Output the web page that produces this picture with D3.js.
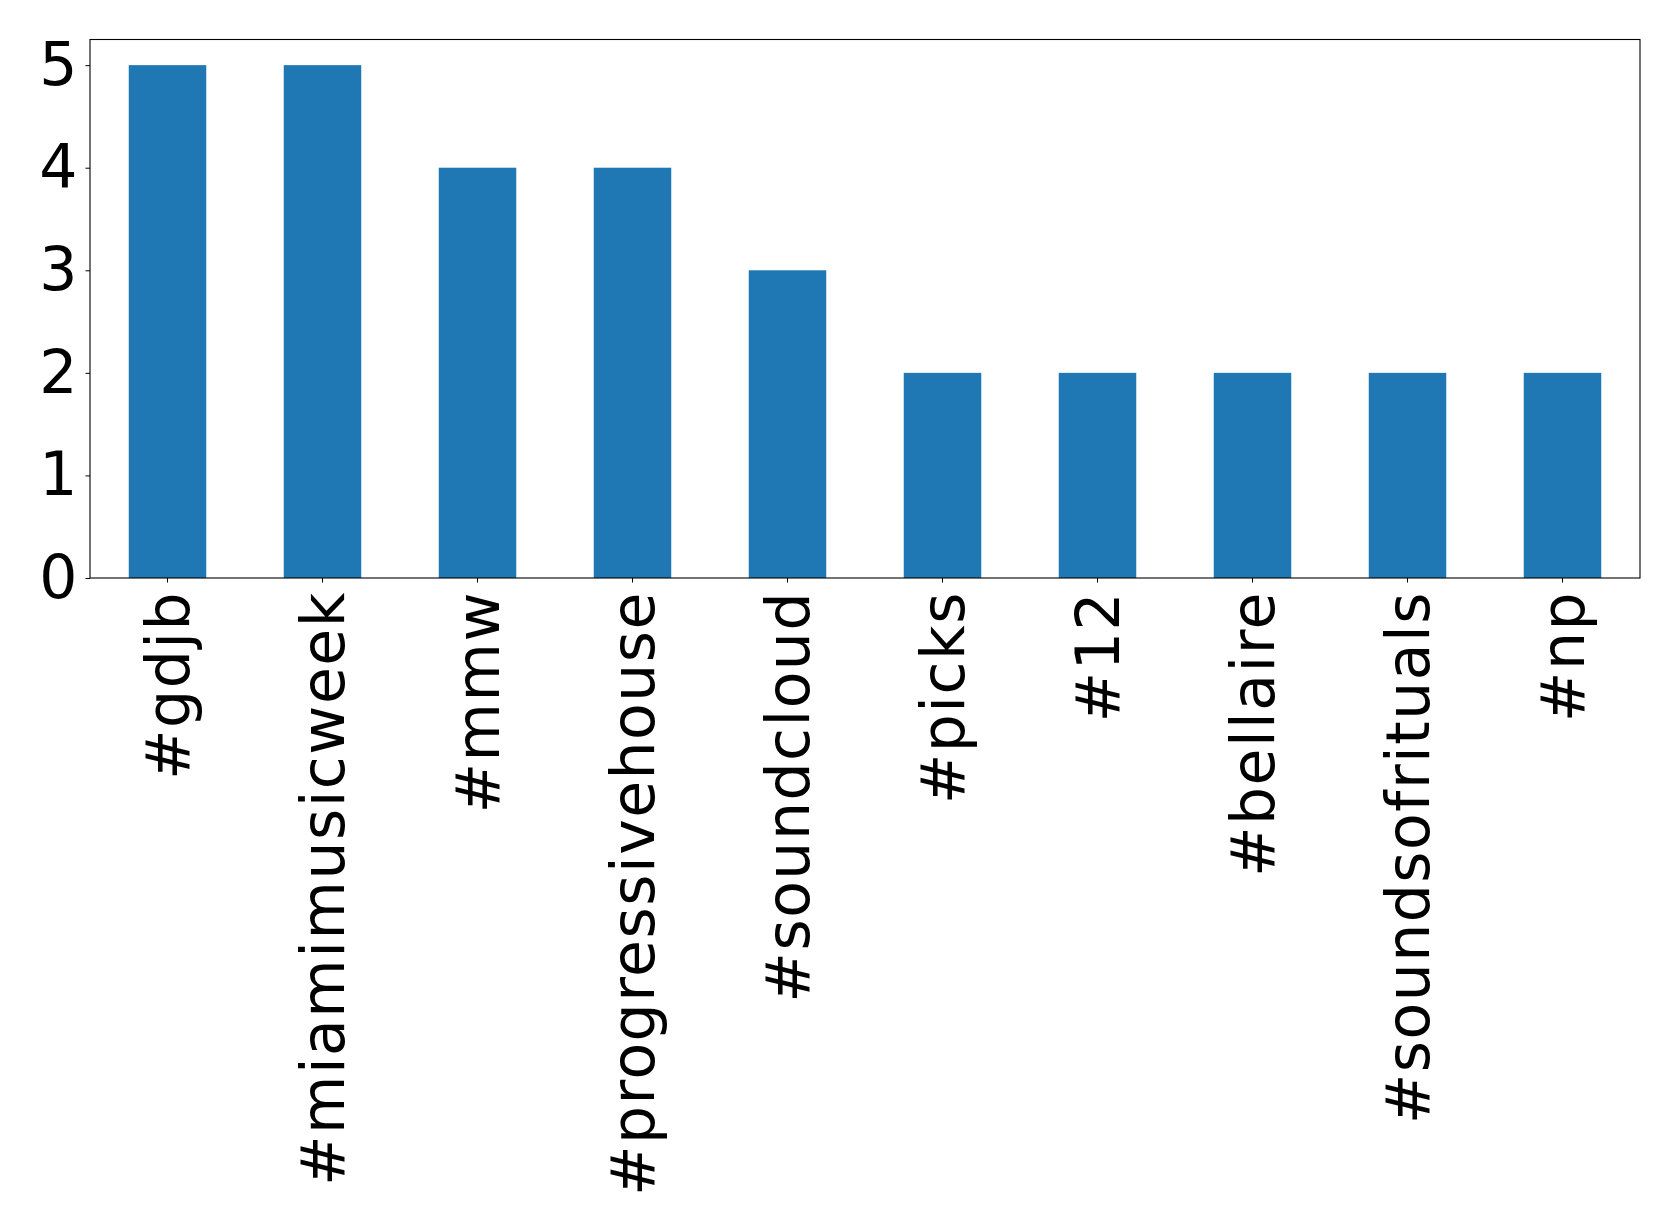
<!DOCTYPE html>
<html>
<head>
<meta charset="utf-8">
<script src="https://cdn.jsdelivr.net/npm/d3@7"></script>
<style>
  html, body { margin: 0; padding: 0; background: #fff; }
  svg { display: block; }
  text { font-family: "DejaVu Sans", sans-serif; fill: #000; }
</style>
</head>
<body>
<svg id="chart" width="1679" height="1231"></svg>
<script>
const categories = ["#gdjb", "#miamimusicweek", "#mmw", "#progressivehouse", "#soundcloud",
                    "#picks", "#12", "#bellaire", "#soundsofrituals", "#np"];
const counts = [5, 5, 4, 4, 3, 2, 2, 2, 2, 2];
const yTicks = [0, 1, 2, 3, 4, 5];

const W = 1679, H = 1231;
const m = { left: 90, right: 1640, top: 39.5, bottom: 578 };
const fontSize = 60;

const svg = d3.select("#chart");

const x = d3.scaleBand().domain(categories).range([m.left, m.right]).paddingInner(0.5).paddingOuter(0.25);
const y = d3.scaleLinear().domain([0, 5.25]).range([m.bottom, m.top]);

svg.append("g").selectAll("rect").data(categories).join("rect")
  .attr("x", d => x(d))
  .attr("width", x.bandwidth())
  .attr("y", (d, i) => y(counts[i]))
  .attr("height", (d, i) => y(0) - y(counts[i]))
  .attr("fill", "#1f77b4");

// frame
svg.append("rect")
  .attr("x", m.left).attr("y", m.top)
  .attr("width", m.right - m.left).attr("height", m.bottom - m.top)
  .attr("fill", "none").attr("stroke", "#000").attr("stroke-width", 1.1);

// y axis
const yAxis = d3.axisLeft(y).tickValues(yTicks).tickFormat(d3.format("d")).tickSize(4.5).tickPadding(8);
const gy = svg.append("g").attr("transform", `translate(${m.left},0)`).call(yAxis);
gy.select(".domain").remove();
gy.selectAll(".tick line").attr("stroke", "#000");
gy.selectAll(".tick text").attr("font-size", fontSize).attr("font-family", "DejaVu Sans, sans-serif").attr("fill", "#000");

// x axis
const xAxis = d3.axisBottom(x).tickSize(4.5).tickPadding(8);
const gx = svg.append("g").attr("transform", `translate(0,${m.bottom})`).call(xAxis);
gx.select(".domain").remove();
gx.selectAll(".tick line").attr("stroke", "#000");
gx.selectAll(".tick text")
  .attr("font-size", fontSize)
  .attr("font-family", "DejaVu Sans, sans-serif")
  .attr("fill", "#000")
  .attr("letter-spacing", "1.5px")
  .attr("text-anchor", "end")
  .attr("transform", "translate(0,13) rotate(-90)")
  .attr("x", 0).attr("y", 0).attr("dy", "0.35em");
</script>
</body>
</html>
